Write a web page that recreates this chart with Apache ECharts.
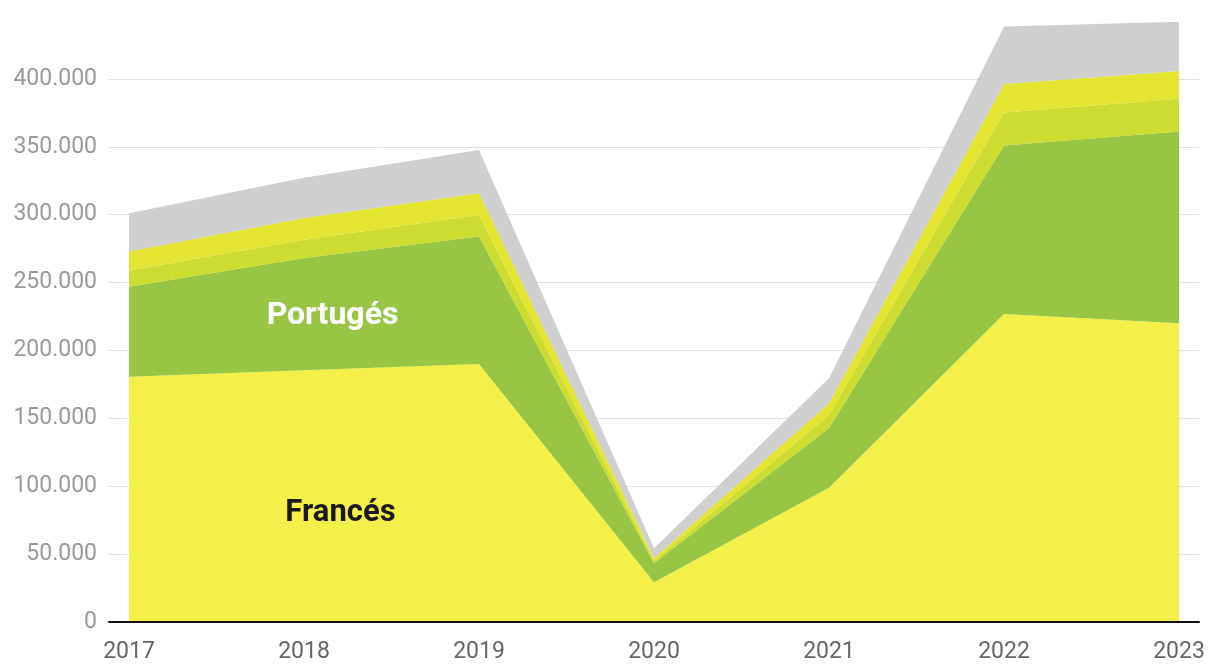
<!DOCTYPE html>
<html>
<head>
<meta charset="utf-8">
<script src="https://cdn.jsdelivr.net/npm/echarts@6/dist/echarts.min.js"></script>
<style>
html,body{margin:0;padding:0;background:#fff;}
#c{width:1220px;height:672px;}
</style>
</head>
<body>
<div id="c"></div>
<script>
const years = ['2017','2018','2019','2020','2021','2022','2023'];
const frances   = [180700, 185500, 190100, 29200, 98900, 226900, 220000];
const portugues = [66300, 82600, 93900, 14000, 44000, 124000, 141200];
const layer3    = [11800, 13500, 15800, 1700, 9600, 24300, 24100];
const layer4    = [14000, 16000, 16000, 2000, 8600, 21100, 20600];
const otros     = [28300, 29500, 31900, 7400, 18400, 42200, 36100];
const seriesNames = ['Francés','Portugués','Otro 1','Otro 2','Otros'];
const seriesColors = ['#f1ef3a','#90c034','#c8d91f','#e1e31e','#cbcbcb'];
const yTicks = [0, 50000, 100000, 150000, 200000, 250000, 300000, 350000, 400000];

const FONT = 'Roboto, "Noto Sans", sans-serif';
const fmt = v => String(v).replace(/\B(?=(\d{3})+(?!\d))/g, '.');

const chart = echarts.init(document.getElementById('c'), null, {renderer:'canvas'});
const values = [frances, portugues, layer3, layer4, otros];
const series = values.map((d, i) => ({
  name: seriesNames[i],
  type: 'line',
  stack: 'total',
  xAxisIndex: 0,
  yAxisIndex: 0,
  data: d,
  symbol: 'none',
  lineStyle: {width: 0},
  areaStyle: {color: seriesColors[i], opacity: 0.92},
  z: 2 + i * 0.01,
  silent: true
}));

chart.setOption({
  animation: false,
  grid: [
    {left: 129, right: 41, top: 11, bottom: 50},
    {left: 109, right: 21, top: 11, bottom: 50}
  ],
  xAxis: [
    {
      type: 'category', gridIndex: 0, data: years, boundaryGap: false,
      axisLine: {show: false}, axisTick: {show: false}, splitLine: {show: false},
      axisLabel: {color: '#666', fontSize: 23, fontFamily: FONT, margin: 19}
    },
    {
      type: 'value', gridIndex: 1, min: 0, max: 1,
      axisLine: {show: true, lineStyle: {color: '#111', width: 2}},
      axisTick: {show: false}, axisLabel: {show: false}, splitLine: {show: false},
      z: 20
    }
  ],
  yAxis: [
    {
      type: 'value', gridIndex: 0, min: 0, max: 450000, interval: 50000,
      axisLine: {show: false}, axisTick: {show: false}, axisLabel: {show: false},
      splitLine: {show: false}
    },
    {
      type: 'value', gridIndex: 1, min: 0, max: 450000, interval: 50000,
      axisLine: {show: false}, axisTick: {show: false},
      axisLabel: {
        color: '#999', fontSize: 23, fontFamily: FONT, margin: 12,
        showMaxLabel: false,
        formatter: v => yTicks.indexOf(v) >= 0 ? fmt(v) : ''
      },
      splitLine: {show: true, showMaxLine: false, lineStyle: {color: '#e0e0e0', width: 1}}
    }
  ],
  graphic: [
    {
      type: 'text', x: 332.5, y: 316, z: 50,
      style: {text: 'Portugés', fill: '#ffffff', font: 'bold 32px ' + FONT,
              textAlign: 'center', textVerticalAlign: 'middle'}
    },
    {
      type: 'text', x: 340.5, y: 513, z: 50,
      style: {text: 'Francés', fill: '#1a1a1a', font: 'bold 31px ' + FONT,
              textAlign: 'center', textVerticalAlign: 'middle'}
    }
  ],
  series: series
});
</script>
</body>
</html>
